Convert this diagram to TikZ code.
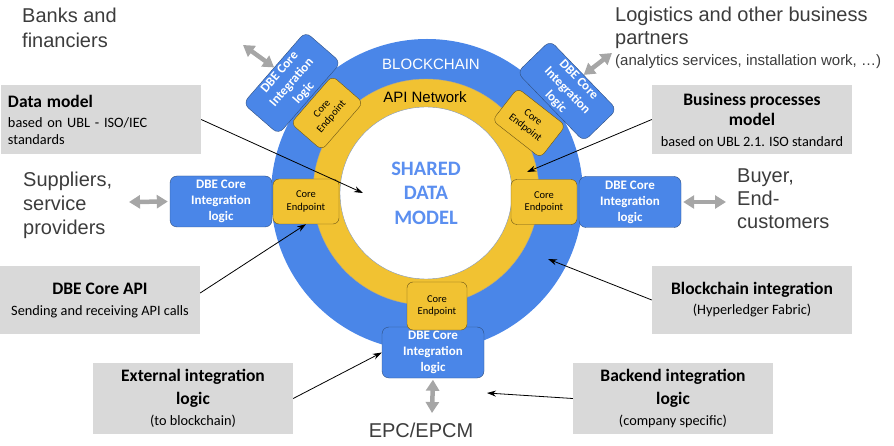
\documentclass[tikz,border=0pt]{standalone}
\usepackage{fontspec}
\setmainfont{Carlito}
\newfontfamily\arialfont{Liberation Sans}
\usetikzlibrary{arrows.meta}

\definecolor{chainblue}{HTML}{4A86E8}
\definecolor{ringyellow}{HTML}{F1C232}
\definecolor{boxline}{HTML}{2F4F7F}
\definecolor{endline}{HTML}{6B5416}
\definecolor{notegray}{HTML}{D9D9D9}
\definecolor{arrowgray}{HTML}{A6A6A6}
\definecolor{labelgray}{HTML}{3C3C3C}
\definecolor{datablue}{HTML}{5B8FF0}

\newcommand{\notehead}[1]{{\bfseries\fontsize{17.5}{21}\selectfont #1}}

\begin{document}
\begin{tikzpicture}[x=1pt, y=-1pt,
    dbebox/.style={draw=boxline, fill=chainblue, rounded corners=7pt, text=white,
        font=\bfseries\fontsize{13}{16}\selectfont, align=center,
        minimum width=102pt, minimum height=51pt, inner sep=0pt},
    endbox/.style={draw=endline, fill=ringyellow, rounded corners=6pt,
        font=\fontsize{10.5}{12.5}\selectfont, align=center,
        minimum width=66pt, minimum height=45pt, inner sep=0pt},
    notebox/.style={fill=notegray, minimum width=200pt, minimum height=69pt,
        inner sep=6pt, font=\fontsize{14.3}{20}\selectfont, align=center},
    side/.style={text=labelgray, font=\arialfont\fontsize{20}{24}\selectfont,
        align=left, inner sep=0pt},
    twoway/.style={draw=arrowgray, line width=4.5pt,
        {Triangle[width=13pt,length=11pt]}-{Triangle[width=13pt,length=11pt]}},
    pointer/.style={draw=black, line width=0.8pt, -{Stealth[length=9pt,width=6pt]}}]

    \useasboundingbox (0,0) rectangle (894,446);

    \node [circle, fill=chainblue, minimum size=312pt, inner sep=0pt] (chain) at (427,195) {};
    \node [circle, draw=endline!50, fill=ringyellow, minimum size=226pt, inner sep=0pt] (ring) at (426,192) {};
    \node [circle, draw=boxline!60, fill=white, minimum size=172pt, inner sep=0pt,
        text=datablue, font=\bfseries\fontsize{20.5}{24.5}\selectfont, align=center] (core) at (426,193) {SHARED\\DATA\\MODEL};
    \node [text=white, font=\arialfont\fontsize{15}{18}\selectfont] (chainname) at (431,64) {BLOCKCHAIN};
    \node [font=\arialfont\fontsize{15}{18}\selectfont] (ringname) at (425,97) {API Network};

    \node [dbebox] (dbeL) at (221,201.5) {DBE Core\\Integration\\logic};
    \node [dbebox] (dbeR) at (630,202) {DBE Core\\Integration\\logic};
    \node [dbebox] (dbeB) at (433,352.5) {DBE Core\\Integration\\logic};
    \node [dbebox, rotate=49, minimum width=95pt, minimum height=47pt] (dbeUL) at (292,83) {DBE Core\\Integration\\logic};
    \node [dbebox, rotate=-46, minimum width=96pt, minimum height=46pt] (dbeUR) at (567,91) {DBE Core\\Integration\\logic};

    \node [endbox] (cepL) at (306,201.5) {Core\\Endpoint};
    \node [endbox] (cepR) at (544,202) {Core\\Endpoint};
    \node [endbox, minimum width=60pt, minimum height=48pt] (cepB) at (437,306) {Core\\Endpoint};
    \node [endbox, rotate=49, minimum width=63pt, minimum height=41pt] (cepUL) at (327,113) {Core\\Endpoint};
    \node [endbox, rotate=-38, minimum width=61pt, minimum height=41pt] (cepUR) at (529,123) {Core\\Endpoint};

    \node [side, anchor=north west, font=\arialfont\fontsize{20}{25.5}\selectfont] (banks) at (22,7.5) {Banks and\\financiers};
    \node [side, anchor=north west, font=\arialfont\fontsize{20}{23}\selectfont] (partners) at (615,6.5) {Logistics and other business\\partners};
    \node [side, anchor=base west, font=\arialfont\fontsize{15}{18}\selectfont] (partnersnote) at (615,66) {(analytics services, installation work, \dots)};
    \node [side, anchor=north west] (suppliers) at (23,172) {Suppliers,\\service\\providers};
    \node [side, anchor=north west, font=\arialfont\fontsize{20}{23}\selectfont] (buyers) at (737,168.5) {Buyer,\\End-\\customers};
    \node [side, anchor=base] (epc) at (421,437) {EPC/EPCM};

    \node [notebox, align=left, text width=186pt, font=\fontsize{14.3}{17}\selectfont] (datamodel) at (101,119.5) {\notehead{Data model}\\[3pt]based on UBL - ISO/IEC\\standards};
    \node [notebox] (process) at (752,119.5) {\notehead{Business processes}\\\notehead{model}\\[1pt]based on UBL 2.1. ISO standard};
    \node [notebox, minimum height=68pt] (api) at (100,300) {\notehead{DBE Core API}\\[1pt]Sending and receiving API calls};
    \node [notebox, minimum height=68pt] (chainint) at (752,300) {\notehead{Blockchain integration}\\(Hyperledger Fabric)};
    \node [notebox] (external) at (193,398.5) {\notehead{External integration}\\[3pt]\notehead{logic}\\[1pt](to blockchain)};
    \node [notebox] (backend) at (673,398.5) {\notehead{Backend integration}\\[3pt]\notehead{logic}\\[1pt](company specific)};

    \coordinate (tradeL) at (129,202);
    \coordinate (tradeR) at (726,202);
    \coordinate (tradeB) at (432,413);
    \coordinate (tradeUL) at (243,45);
    \coordinate (tradeUR) at (612,53);
    \draw [twoway, shorten >=2pt] (tradeL) -- (dbeL.west);
    \draw [twoway, shorten <=2pt] (dbeR.east) -- (tradeR);
    \draw [twoway, shorten <=1.5pt] (dbeB.south) -- (tradeB);
    \draw [twoway] (tradeUL) -- (dbeUL.north);
    \draw [twoway] (dbeUR.north) -- (tradeUR);

    \coordinate (datatip) at (363,193);
    \coordinate (processtip) at (527,172);
    \coordinate (chaintip) at (548,259);
    \coordinate (backendtip) at (487,393);
    \draw [pointer] (datamodel.east) -- (datatip);
    \draw [pointer] (process.west) -- (processtip);
    \draw [pointer] (api.4) -- (cepL.south);
    \draw [pointer] (chainint.west) -- (chaintip);
    \draw [pointer] (external.east) -- (dbeB.west);
    \draw [pointer] (backend.west) -- (backendtip);
\end{tikzpicture}
\end{document}
